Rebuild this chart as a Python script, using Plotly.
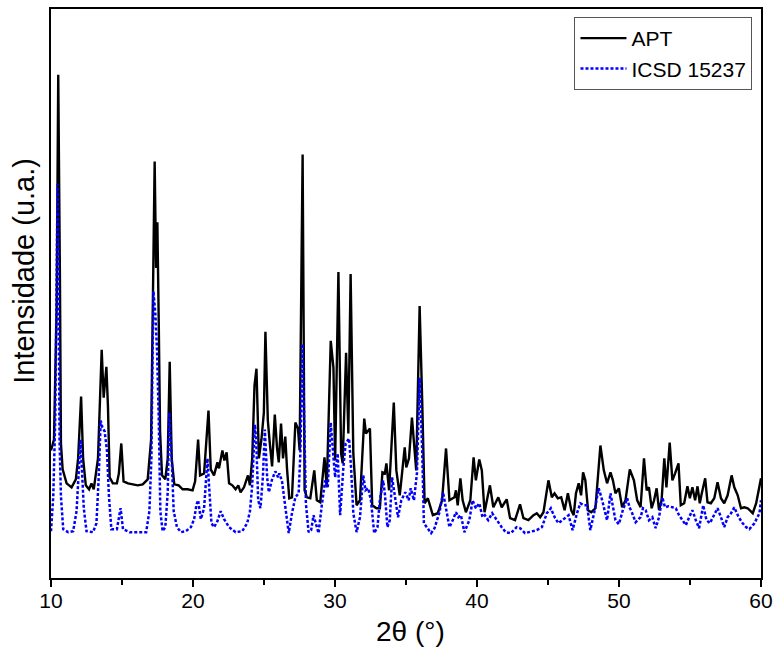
import plotly.graph_objects as go

# APT measured pattern (2theta in degrees, intensity in arbitrary units)
apt_2theta = [10.00, 10.21, 10.40, 10.51, 10.63, 10.70, 10.82, 11.10, 11.45, 11.75, 11.91, 12.12, 12.26, 12.45,
              12.68, 12.85, 13.01, 13.31, 13.57, 13.71, 13.90, 14.01, 14.13, 14.36, 14.64, 14.78, 14.95, 15.11,
              15.42, 15.77, 16.11, 16.46, 16.81, 17.05, 17.16, 17.30, 17.40, 17.49, 17.59, 17.68, 17.82, 18.05,
              18.22, 18.36, 18.50, 18.68, 18.99, 19.27, 19.62, 19.97, 20.15, 20.36, 20.50, 20.78, 21.09, 21.25,
              21.48, 21.72, 21.83, 22.07, 22.21, 22.37, 22.54, 22.77, 23.00, 23.19, 23.35, 23.59, 23.87, 24.01,
              24.17, 24.33, 24.47, 24.64, 24.82, 24.99, 25.10, 25.27, 25.41, 25.57, 25.76, 25.92, 26.04, 26.20,
              26.34, 26.50, 26.62, 26.78, 26.97, 27.21, 27.39, 27.51, 27.72, 27.86, 28.02, 28.26, 28.54, 28.72,
              28.96, 29.26, 29.42, 29.70, 29.89, 30.01, 30.24, 30.43, 30.54, 30.78, 30.94, 31.10, 31.29, 31.52,
              31.76, 32.06, 32.18, 32.46, 32.62, 32.92, 33.16, 33.34, 33.51, 33.62, 33.81, 34.14, 34.32, 34.56,
              34.91, 35.02, 35.21, 35.42, 35.72, 35.96, 36.14, 36.31, 36.54, 36.89, 37.24, 37.54, 37.82, 38.06,
              38.41, 38.52, 38.64, 38.83, 38.99, 39.22, 39.53, 39.76, 39.92, 40.16, 40.34, 40.53, 40.91, 41.15,
              41.50, 41.74, 42.09, 42.33, 42.68, 43.03, 43.27, 43.62, 43.98, 44.21, 44.45, 44.68, 45.03, 45.27,
              45.46, 45.69, 45.93, 46.17, 46.40, 46.64, 46.81, 46.97, 47.16, 47.33, 47.47, 47.63, 47.82, 48.05,
              48.34, 48.69, 48.93, 49.16, 49.40, 49.57, 49.75, 49.99, 50.22, 50.46, 50.76, 51.05, 51.28, 51.52,
              51.76, 51.95, 52.11, 52.30, 52.47, 52.65, 52.82, 53.00, 53.19, 53.34, 53.57, 53.76, 53.95, 54.19,
              54.35, 54.59, 54.82, 54.99, 55.17, 55.36, 55.53, 55.69, 55.83, 56.07, 56.23, 56.47, 56.71, 56.94,
              57.18, 57.41, 57.65, 57.93, 58.12, 58.36, 58.59, 58.83, 59.06, 59.42, 59.66, 59.84, 60.00]
apt_intensity = [128, 139, 273, 505, 299, 135, 109, 95, 91, 99, 120, 182, 120, 93,
                 89, 95, 89, 120, 229, 181, 212, 173, 101, 95, 95, 105, 135, 97,
                 95, 94, 93, 94, 99, 139, 273, 418, 311, 357, 254, 147, 103, 99,
                 120, 217, 120, 94, 93, 89, 89, 88, 97, 139, 103, 105, 168, 109,
                 103, 116, 110, 128, 118, 126, 95, 93, 89, 93, 86, 91, 103, 93,
                 120, 193, 210, 120, 139, 166, 247, 158, 135, 112, 164, 130, 116, 155,
                 120, 142, 110, 80, 81, 156, 150, 128, 425, 88, 81, 80, 108, 78,
                 76, 121, 91, 238, 211, 118, 307, 125, 115, 226, 145, 305, 125, 73,
                 78, 160, 145, 150, 73, 70, 70, 106, 105, 115, 88, 176, 108, 83,
                 131, 111, 120, 161, 108, 273, 178, 75, 80, 63, 65, 78, 130, 78,
                 81, 88, 73, 100, 78, 66, 78, 121, 98, 119, 108, 66, 93, 71,
                 81, 71, 79, 60, 58, 74, 60, 58, 63, 65, 61, 66, 98, 81,
                 85, 80, 81, 68, 85, 68, 63, 85, 95, 83, 106, 98, 68, 66,
                 70, 133, 108, 95, 106, 98, 85, 90, 71, 78, 109, 98, 78, 71,
                 120, 88, 91, 70, 78, 90, 68, 78, 120, 91, 136, 98, 105, 115,
                 73, 75, 92, 80, 91, 78, 92, 75, 85, 100, 76, 75, 80, 96,
                 80, 75, 83, 103, 91, 83, 70, 71, 70, 65, 75, 88, 100]

# ICSD 15237 reference pattern
icsd_2theta = [10.00, 10.16, 10.30, 10.40, 10.46, 10.53, 10.60, 10.70, 10.86, 11.21, 11.56, 11.80, 11.96, 12.08,
               12.19, 12.31, 12.50, 12.96, 13.20, 13.36, 13.50, 13.62, 13.78, 13.94, 14.08, 14.25, 14.64, 14.78,
               14.90, 15.07, 15.53, 16.70, 16.93, 17.07, 17.21, 17.35, 17.47, 17.59, 17.70, 17.86, 18.05, 18.22,
               18.33, 18.50, 18.64, 18.87, 19.15, 19.50, 19.85, 20.08, 20.25, 20.36, 20.55, 20.78, 21.02, 21.13,
               21.30, 21.48, 21.72, 21.95, 22.19, 22.54, 23.00, 23.47, 23.82, 24.01, 24.17, 24.36, 24.45, 24.59,
               24.75, 24.92, 25.06, 25.22, 25.34, 25.57, 25.80, 25.99, 26.08, 26.27, 26.50, 26.74, 26.97, 27.21,
               27.44, 27.56, 27.72, 27.86, 27.95, 28.14, 28.32, 28.49, 28.65, 28.84, 29.07, 29.31, 29.49, 29.70,
               29.89, 30.01, 30.19, 30.36, 30.59, 30.75, 30.99, 31.13, 31.29, 31.52, 31.76, 31.99, 32.15, 32.34,
               32.53, 32.76, 32.99, 33.16, 33.39, 33.51, 33.69, 33.86, 34.02, 34.21, 34.44, 34.67, 34.95, 35.19,
               35.33, 35.56, 35.77, 35.96, 36.14, 36.26, 36.49, 36.77, 37.01, 37.36, 37.61, 37.82, 38.06, 38.29,
               38.52, 38.69, 38.87, 39.11, 39.46, 39.69, 39.92, 40.16, 40.39, 40.55, 40.79, 41.07, 41.38, 41.74,
               42.02, 42.39, 42.79, 43.03, 43.38, 43.86, 44.21, 44.57, 44.92, 45.20, 45.50, 45.74, 45.98, 46.21,
               46.45, 46.73, 47.04, 47.28, 47.51, 47.75, 47.98, 48.26, 48.57, 48.76, 48.93, 49.16, 49.40, 49.59,
               49.75, 49.99, 50.27, 50.58, 50.74, 50.93, 51.17, 51.52, 51.69, 51.88, 52.11, 52.35, 52.58, 52.82,
               53.05, 53.24, 53.48, 53.76, 54.00, 54.23, 54.47, 54.71, 54.94, 55.17, 55.41, 55.64, 55.93, 56.16,
               56.40, 56.64, 56.94, 57.18, 57.41, 57.65, 57.89, 58.12, 58.43, 58.71, 58.95, 59.18, 59.54, 59.89,
               60.00]
icsd_intensity = [47, 82, 160, 340, 395, 310, 140, 82, 49, 46, 47, 67, 109, 139,
                  105, 70, 47, 46, 55, 101, 158, 151, 147, 128, 82, 49, 49, 59,
                  70, 49, 46, 46, 67, 120, 288, 265, 227, 158, 67, 47, 51, 86,
                  166, 120, 67, 51, 46, 47, 51, 59, 74, 78, 59, 70, 120, 93,
                  55, 51, 57, 67, 59, 51, 46, 47, 55, 67, 93, 154, 139, 78,
                  70, 101, 149, 101, 86, 99, 107, 101, 105, 97, 70, 45, 65, 81,
                  85, 125, 235, 128, 75, 46, 48, 63, 55, 45, 73, 98, 91, 156,
                  121, 101, 125, 63, 111, 135, 140, 111, 65, 46, 61, 103, 88, 90,
                  78, 45, 51, 78, 98, 85, 51, 58, 101, 83, 61, 78, 86, 78,
                  90, 78, 105, 201, 128, 55, 50, 45, 50, 66, 86, 70, 51, 58,
                  66, 61, 63, 46, 58, 78, 70, 75, 61, 63, 58, 65, 58, 51,
                  46, 45, 51, 50, 45, 47, 48, 51, 65, 70, 60, 55, 58, 60,
                  63, 48, 65, 75, 73, 73, 48, 66, 90, 81, 71, 58, 85, 70,
                  58, 54, 68, 80, 71, 65, 56, 61, 70, 68, 58, 61, 50, 61,
                  81, 71, 72, 71, 70, 63, 58, 53, 61, 68, 58, 50, 73, 58,
                  55, 61, 70, 61, 51, 61, 65, 71, 61, 55, 51, 49, 55, 65,
                  78]

x_ticks = [10, 20, 30, 40, 50, 60]
x_title = "2θ (°)"
y_title = "Intensidade (u.a.)"

FONT = "Arial, Liberation Sans, sans-serif"

fig = go.Figure()
fig.add_trace(go.Scatter(x=apt_2theta, y=apt_intensity, mode="lines", name="APT",
                         line=dict(color="black", width=2.4)))
fig.add_trace(go.Scatter(x=icsd_2theta, y=icsd_intensity, mode="lines", name="ICSD 15237",
                         line=dict(color="#0000ff", width=2.5, dash="3px,2px")))

fig.update_layout(
    width=780, height=660,
    margin=dict(l=51, r=15, t=7, b=82),
    paper_bgcolor="white", plot_bgcolor="white",
    font=dict(family=FONT, color="black"),
    showlegend=True,
    legend=dict(x=0.988, y=0.986, xanchor="right", yanchor="top",
                bgcolor="white", bordercolor="#555555", borderwidth=1,
                font=dict(size=21, family=FONT), tracegroupgap=0,
                itemwidth=46),
    xaxis=dict(range=[10, 60], tickvals=x_ticks, ticktext=[str(v) for v in x_ticks],
               ticks="outside", ticklen=7, tickwidth=1.5, tickcolor="black",
               minor=dict(dtick=5, tick0=10, ticks="outside", ticklen=5, tickwidth=1.5, tickcolor="black"),
               showline=True, linecolor="black", linewidth=1.5, mirror=True,
               showgrid=False, zeroline=False, ticklabelstandoff=-4,
               tickfont=dict(size=21, family=FONT)),
    yaxis=dict(range=[0, 571], showticklabels=False, ticks="",
               showline=True, linecolor="black", linewidth=1.5, mirror=True,
               showgrid=False, zeroline=False),
    annotations=[
        dict(text=x_title, xref="paper", yref="paper", x=0.507, y=-0.0946,
             xanchor="center", yanchor="middle", showarrow=False,
             font=dict(size=28, family=FONT, color="black")),
        dict(text=y_title, xref="paper", yref="paper", x=-0.038, y=0.54,
             xanchor="center", yanchor="middle", showarrow=False, textangle=-90,
             font=dict(size=29, family=FONT, color="black")),
    ],
)

fig.write_html("out.html")
